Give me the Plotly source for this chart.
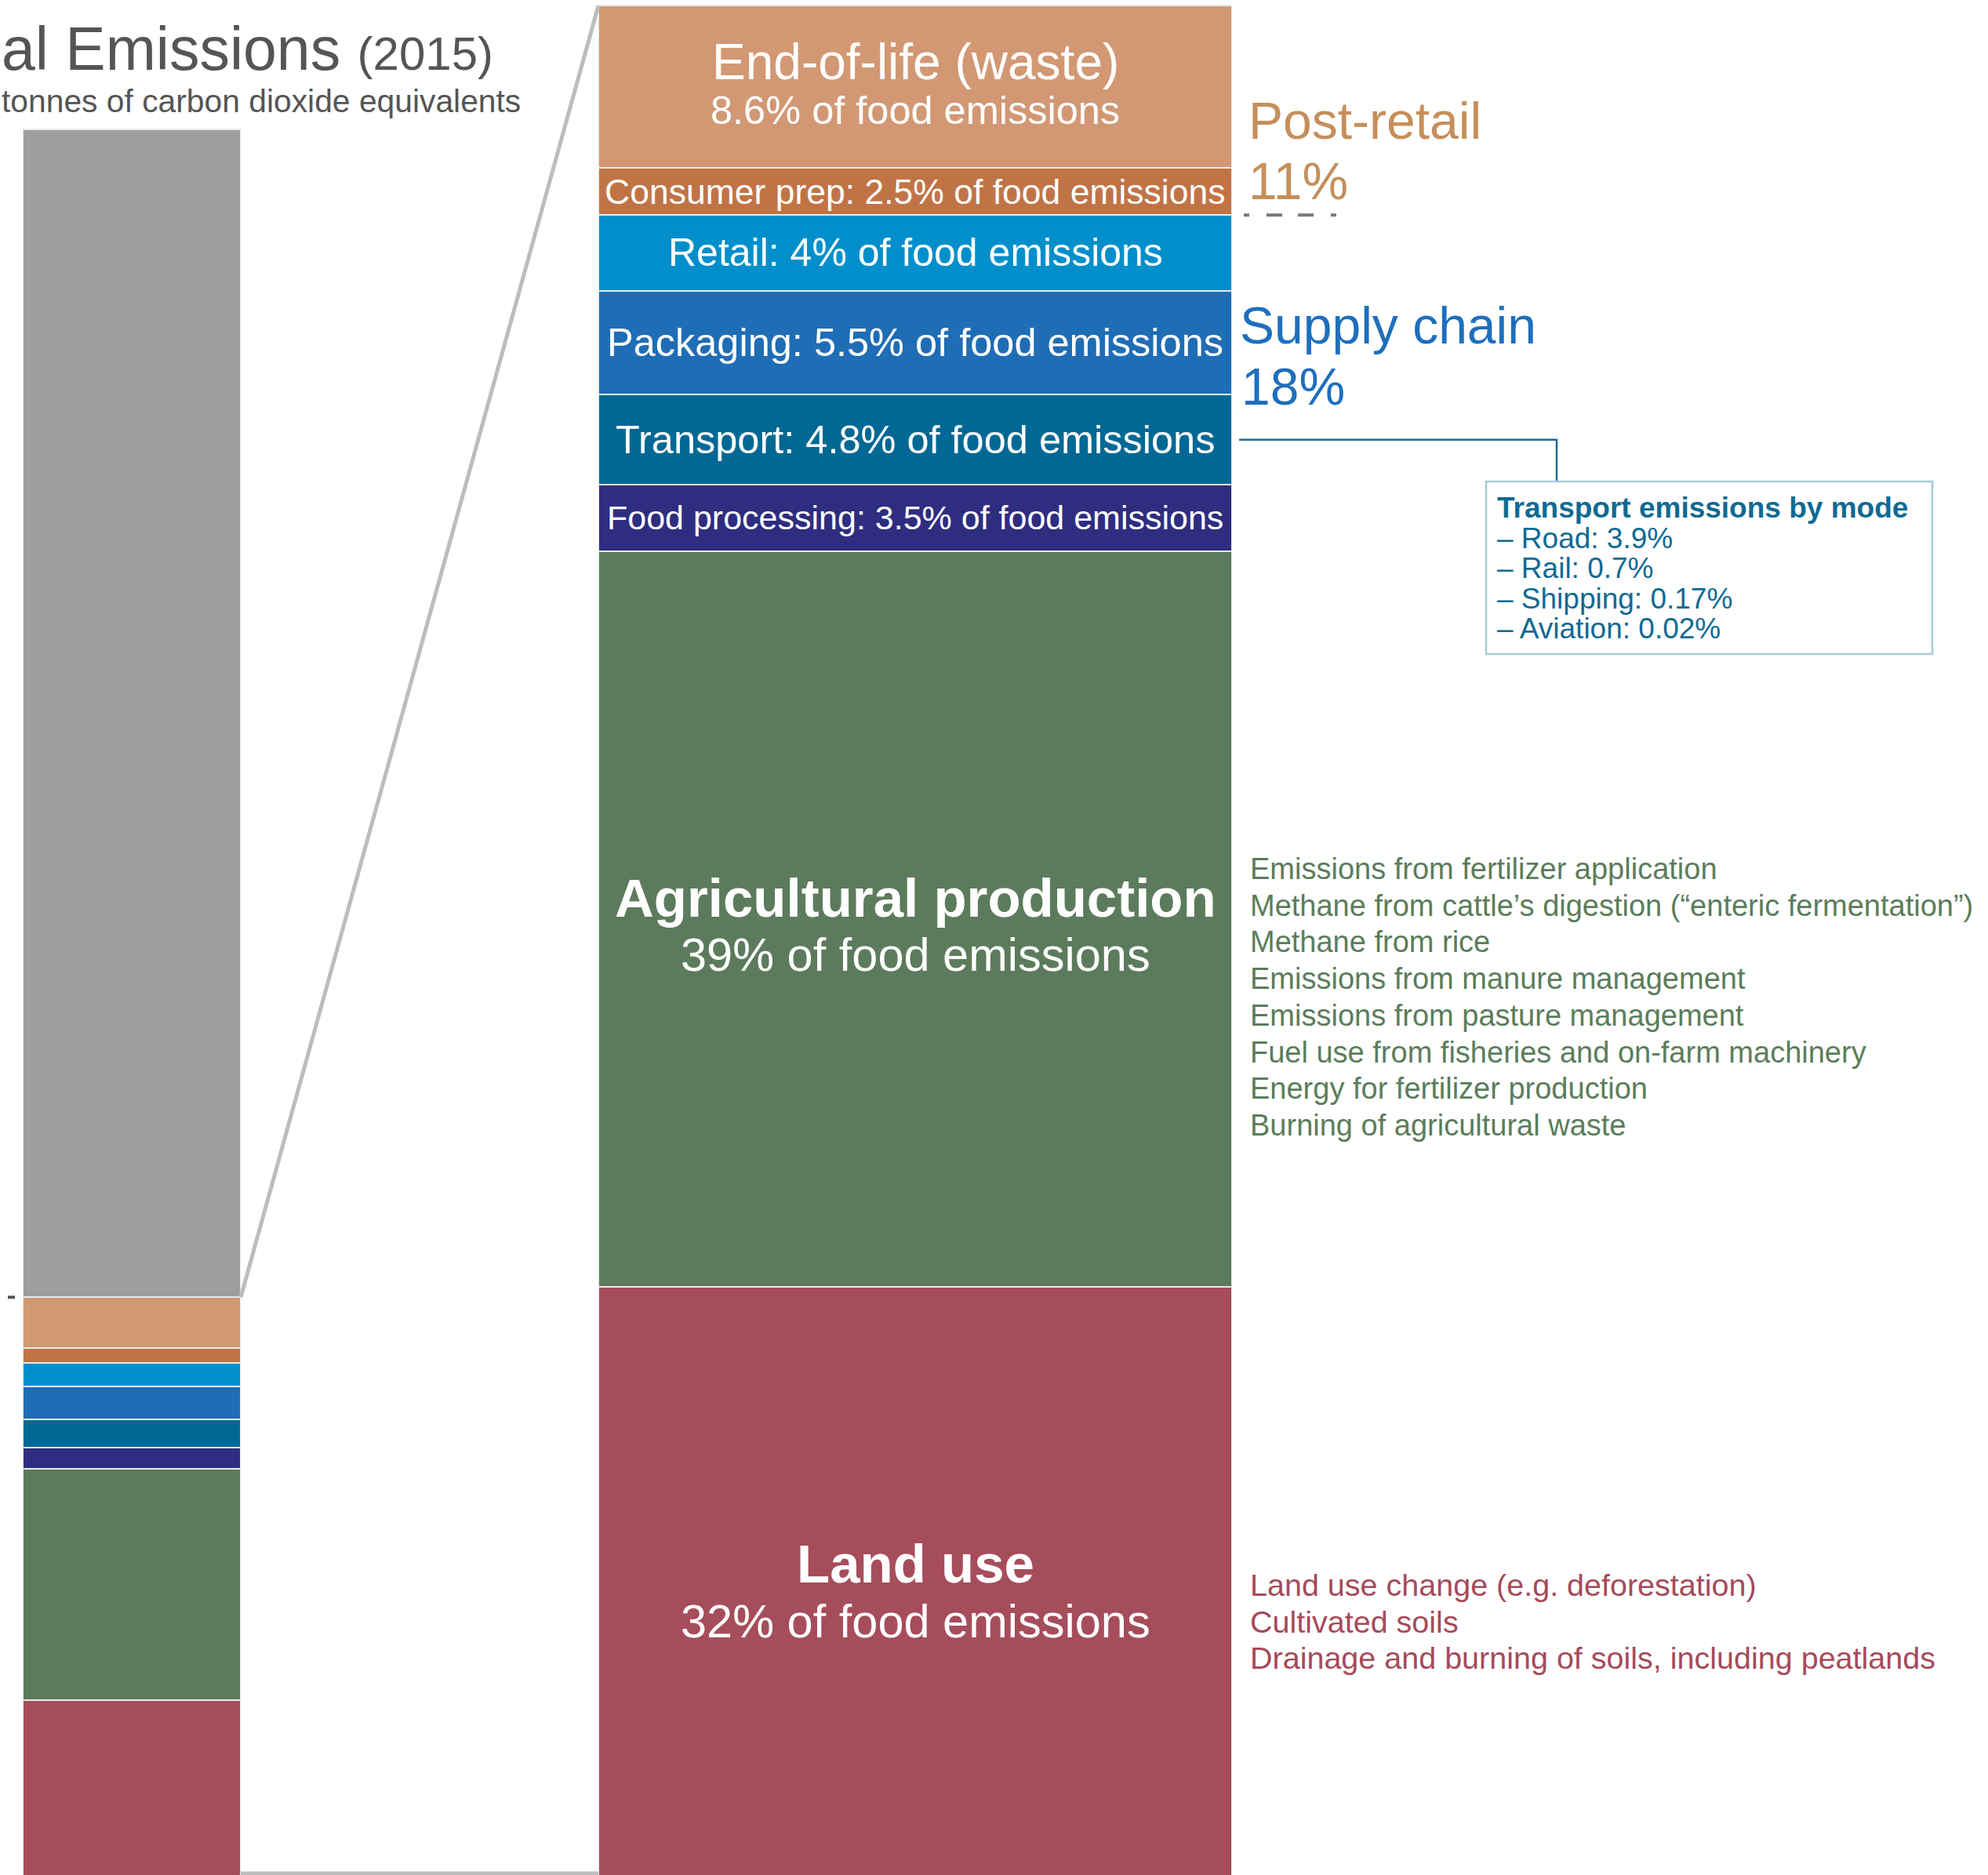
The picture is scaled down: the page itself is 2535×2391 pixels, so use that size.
import plotly.graph_objects as go

# ---- data -------------------------------------------------------------
stages = ["End-of-life (waste)", "Consumer prep", "Retail", "Packaging",
          "Transport", "Food processing", "Agricultural production", "Land use"]
food_shares = [8.6, 2.5, 4, 5.5, 4.8, 3.5, 39, 32]          # % of food emissions
other_emissions = 197                                       # non-food emissions, same scale (food = 100)
stage_colors = ["#d29874", "#c07446", "#008fca", "#1f6db5",
                "#006894", "#2e2d7f", "#5c7b5c", "#a64d5b"]

transport_modes = ["Road", "Rail", "Shipping", "Aviation"]
transport_mode_shares = ["3.9", "0.7", "0.17", "0.02"]

agri_sources = [
    "Emissions from fertilizer application",
    "Methane from cattle\u2019s digestion (\u201centeric fermentation\u201d)",
    "Methane from rice",
    "Emissions from manure management",
    "Emissions from pasture management",
    "Fuel use from fisheries and on-farm machinery",
    "Energy for fertilizer production",
    "Burning of agricultural waste",
]
land_sources = [
    "Land use change (e.g. deforestation)",
    "Cultivated soils",
    "Drainage and burning of soils, including peatlands",
]

# ---- canvas / axes geometry -------------------------------------------
W, H = 2535, 2391
FONT = "Liberation Sans"
left_dom = [29 / W, 307 / W]
right_dom = [763 / W, 1571 / W]
left_range = [2.45, 318.7]
right_range = [0.83, 100.2]


def px(x):
    return x / W


def py(y):
    return 1 - y / H


def ly(v):   # left-axis value -> paper y
    return (v - left_range[0]) / (left_range[1] - left_range[0])


def ry(v):   # right-axis value -> paper y
    return (v - right_range[0]) / (right_range[1] - right_range[0])


fig = go.Figure()
edge = dict(color="#e9e9e9", width=2)

# stacked bars, bottom segment first
for name, val, col in reversed(list(zip(stages, food_shares, stage_colors))):
    fig.add_trace(go.Bar(x=[0], y=[val], name=name, width=1, marker=dict(color=col, line=edge),
                         xaxis="x", yaxis="y", hoverinfo="name"))
fig.add_trace(go.Bar(x=[0], y=[other_emissions], name="Other emissions", width=1,
                     marker=dict(color="#9e9e9e", line=edge), xaxis="x", yaxis="y", hoverinfo="name"))
for name, val, col in reversed(list(zip(stages, food_shares, stage_colors))):
    fig.add_trace(go.Bar(x=[0], y=[val], name=name, width=1, marker=dict(color=col, line=edge),
                         xaxis="x2", yaxis="y2", hoverinfo="name"))

food_total = sum(food_shares)

# cumulative bounds of each segment on the food bar (top segment first)
bounds = []
top = food_total
for v in food_shares:
    bounds.append((top - v, top))
    top -= v

ann = []
white = "white"


# labels inside the breakdown bar: one annotation per text line
def bar_label(i, lines):
    lo, hi = bounds[i]
    for text, size, shift in lines:
        ann.append(dict(x=0, y=(lo + hi) / 2, xref="x2", yref="y2", text=text, showarrow=False,
                        yshift=shift, font=dict(family=FONT, size=size, color=white),
                        xanchor="center", yanchor="middle"))


def share_text(i):
    return f"{food_shares[i]:g}% of food emissions"


bar_label(0, [(stages[0], 64, 32), (share_text(0), 50.5, -30)])
bar_label(1, [(f"{stages[1]}: {share_text(1)}", 44.5, 0)])
bar_label(2, [(f"{stages[2]}: {share_text(2)}", 50, 0)])
bar_label(3, [(f"{stages[3]}: {share_text(3)}", 50.5, 0)])
bar_label(4, [(f"{stages[4]}: {share_text(4)}", 50.5, 0)])
bar_label(5, [(f"{stages[5]}: {share_text(5)}", 43, 0)])
bar_label(6, [(f"<b>{stages[6]}</b>", 69, 26), (share_text(6), 59.5, -46)])
bar_label(7, [(f"<b>{stages[7]}</b>", 69, 31), (share_text(7), 59.5, -42)])

# title block at the top left
ann.append(dict(x=px(0), y=py(62), xref="paper", yref="paper", showarrow=False,
                text="al Emissions <span style='font-size:60px'>(2015)</span>",
                font=dict(family=FONT, size=77, color="#555555"), xanchor="left", yanchor="middle"))
ann.append(dict(x=px(0), y=py(129), xref="paper", yref="paper", showarrow=False,
                text="tonnes of carbon dioxide equivalents",
                font=dict(family=FONT, size=40.8, color="#555555"), xanchor="left", yanchor="middle"))

# group labels
post_retail = food_shares[0] + food_shares[1]
supply_chain = sum(food_shares[2:6])
tan, blue = "#c58f5b", "#1e6fbd"
for text, x, y, col in [("Post-retail", 1590, 154, tan), (f"{post_retail:.0f}%", 1590, 231, tan),
                        ("Supply chain", 1579, 415, blue), (f"{supply_chain:.0f}%", 1581, 493, blue)]:
    ann.append(dict(x=px(x), y=py(y), xref="paper", yref="paper", showarrow=False, text=text,
                    font=dict(family=FONT, size=66, color=col), xanchor="left", yanchor="middle"))

# transport breakdown box
teal = "#0f6a93"
ann.append(dict(x=px(1907), y=py(648), xref="paper", yref="paper", showarrow=False,
                text="<b>Transport emissions by mode</b>",
                font=dict(family=FONT, size=37, color=teal), xanchor="left", yanchor="middle"))
for k, (m, s) in enumerate(zip(transport_modes, transport_mode_shares)):
    ann.append(dict(x=px(1907), y=py(686 + 38.5 * k), xref="paper", yref="paper", showarrow=False,
                    text=f"\u2013 {m}: {s}%",
                    font=dict(family=FONT, size=37, color=teal), xanchor="left", yanchor="middle"))

# source lists
for k, t in enumerate(agri_sources):
    ann.append(dict(x=px(1592), y=py(1108 + 46.7 * k), xref="paper", yref="paper", showarrow=False, text=t,
                    font=dict(family=FONT, size=38, color="#5b7d5b"), xanchor="left", yanchor="middle"))
for k, t in enumerate(land_sources):
    ann.append(dict(x=px(1592), y=py(2021 + 46.7 * k), xref="paper", yref="paper", showarrow=False, text=t,
                    font=dict(family=FONT, size=39.5, color="#a64a5b"), xanchor="left", yanchor="middle"))

# ---- shapes -------------------------------------------------------------
grey = "#bdbdbd"
shapes = [
    # zoom connector: top of food on the total bar -> top of the breakdown bar
    dict(type="line", xref="paper", yref="paper", x0=left_dom[1], y0=ly(food_total),
         x1=right_dom[0], y1=ry(food_total), line=dict(color=grey, width=5)),
    # bottom connector
    dict(type="line", xref="paper", yref="paper", x0=left_dom[1], y0=py(2389),
         x1=right_dom[0], y1=py(2389), line=dict(color=grey, width=5)),
    # small tick at the food boundary on the total bar
    dict(type="line", xref="paper", yref="paper", x0=px(10), y0=ly(food_total),
         x1=px(19), y1=ly(food_total), line=dict(color="#555555", width=4)),
    # dashed divider between post-retail and supply chain
    dict(type="line", xref="paper", yref="paper", x0=px(1586), y0=ry(bounds[1][0]),
         x1=px(1704), y1=ry(bounds[1][0]),
         line=dict(color="#777777", width=4, dash="7px,22px,20px,20px,20px,22px,7px")),
    # transport leader line
    dict(type="path", xref="paper", yref="paper",
         path=(f"M {px(1580)},{ry(sum(bounds[4]) / 2)} L {px(1985)},{ry(sum(bounds[4]) / 2)} "
               f"L {px(1985)},{py(614)}"),
         line=dict(color="#1a6e94", width=2.5)),
    # transport box
    dict(type="rect", xref="paper", yref="paper", x0=px(1895), y0=py(614), x1=px(2464), y1=py(834),
         line=dict(color="#a5cbd9", width=2.5), fillcolor="rgba(0,0,0,0)"),
]

fig.update_layout(
    width=W, height=H, margin=dict(l=0, r=0, t=0, b=0),
    paper_bgcolor="white", plot_bgcolor="white",
    barmode="stack", bargap=0, showlegend=False,
    xaxis=dict(domain=left_dom, range=[-0.5, 0.5], visible=False, fixedrange=True),
    yaxis=dict(domain=[0, 1], range=left_range, visible=False, fixedrange=True),
    xaxis2=dict(domain=right_dom, range=[-0.5, 0.5], visible=False, anchor="y2", fixedrange=True),
    yaxis2=dict(domain=[0, 1], range=right_range, visible=False, anchor="x2", fixedrange=True),
    annotations=ann, shapes=shapes,
)

fig.write_html("out.html")
